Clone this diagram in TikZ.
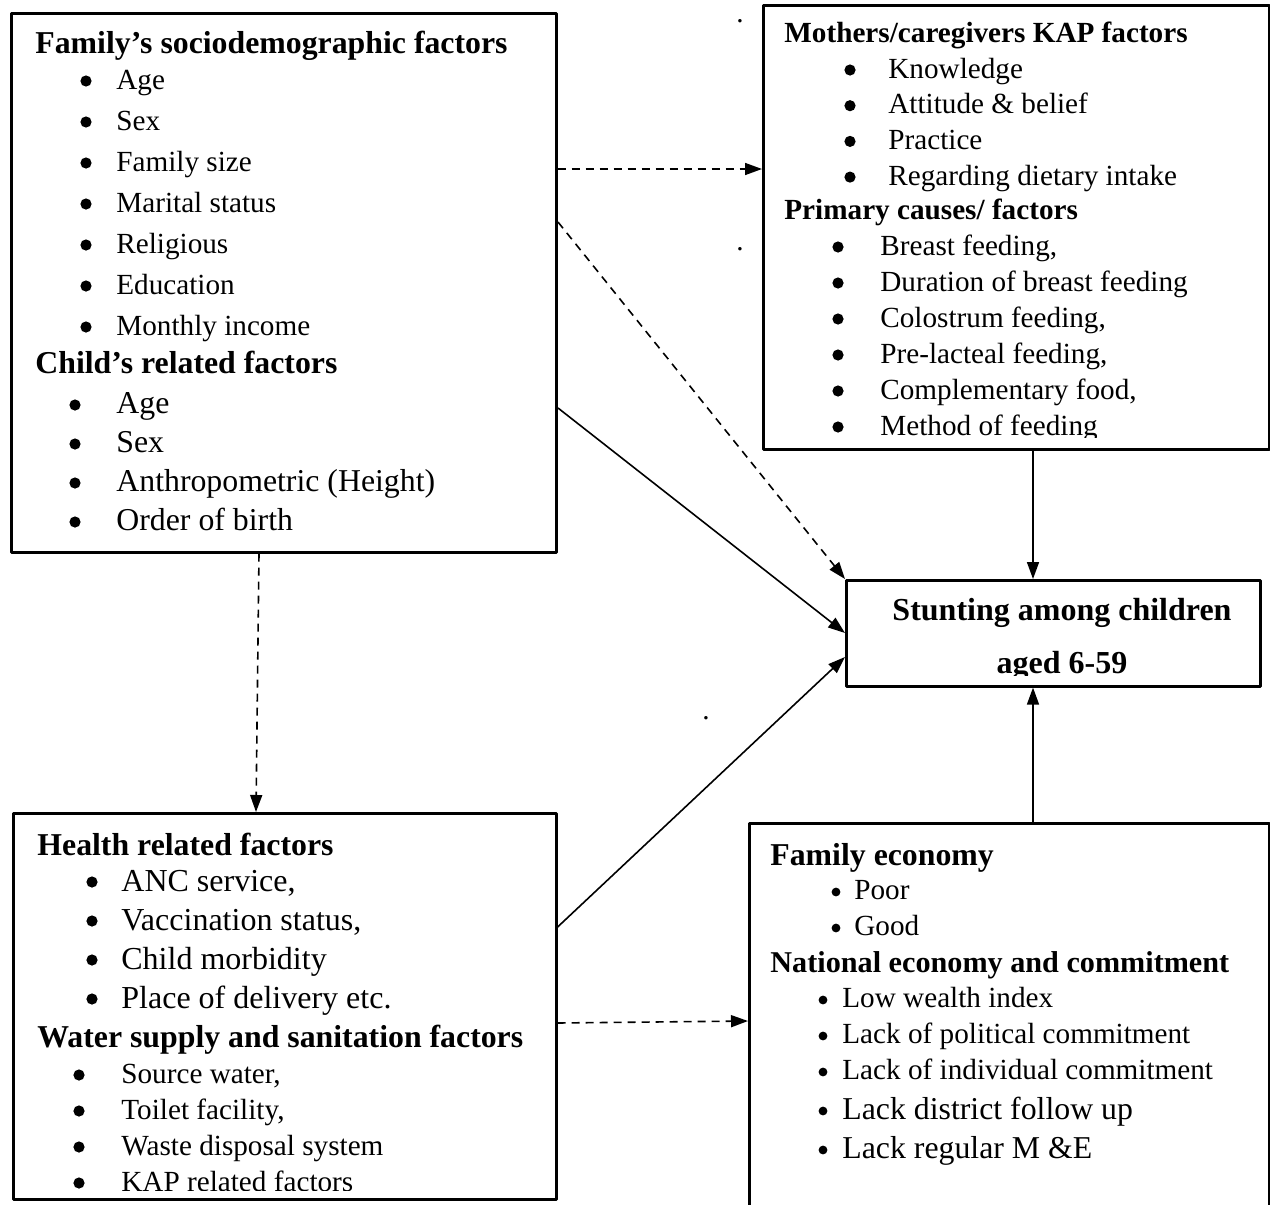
\documentclass[tikz,border=0pt]{standalone}
\usepackage{fontspec}
\setmainfont{Liberation Serif}
\usetikzlibrary{arrows.meta}

\newcommand{\fs}[1]{\fontsize{#1}{#1}\selectfont}

\begin{document}
\begin{tikzpicture}[x=0.5pt,y=-0.5pt,line join=round,>={Triangle[length=8.5pt,width=6pt]},
  box/.style={draw,line width=1.3pt,inner sep=0pt,anchor=north west},
  txt/.style={anchor=base west,inner sep=0pt},
  hd/.style={txt,font=\bfseries\fs{15.9}},
  it/.style={txt,font=\fs{14.6}},
  con/.style={->,line width=0.8pt},
  dsh/.style={con,dash pattern=on 4pt off 3pt}]

\useasboundingbox (0,0) rectangle (1270,1205);

\node[box,minimum width=272.5pt,minimum height=269.5pt] (fam) at (10,12) {};
\node[box,minimum width=253pt,minimum height=222pt] (mot) at (762,4) {};
\node[box,minimum width=207pt,minimum height=53pt] (stu) at (845,579) {};
\node[box,minimum width=271.5pt,minimum height=193pt] (hlt) at (12,812) {};
\node[box,minimum width=260pt,minimum height=200pt] (eco) at (748,822) {};

% family and child
\node[hd] (famh) at (35,53) {Family's sociodemographic factors};
\foreach \t [count=\i from 0] in {Age,Sex,Family size,Marital status,Religious,Education,Monthly income}{
  \fill (86,{81+41*\i}) circle[radius=2.8pt];
  \node[it] (fa\i) at (116,{89+41*\i}) {\t};}
\node[hd] (chih) at (35,373) {Child's related factors};
\foreach \t [count=\i from 0] in {Age,Sex,Anthropometric (Height),Order of birth}{
  \fill (75,{405+39*\i}) circle[radius=2.8pt];
  \node[it,font=\fs{15.9}] (ch\i) at (116,{413+39*\i}) {\t};}

% mothers
\begin{scope}
\clip (762,4) rectangle (1268,437);
\node[hd,font=\bfseries\fs{14.6}] (moth) at (784,42) {Mothers/caregivers KAP factors};
\foreach \t [count=\i from 0] in {Knowledge,Attitude \& belief,Practice,Regarding dietary intake}{
  \fill (850,{70+35.7*\i}) circle[radius=2.8pt];
  \node[it] (mo\i) at (888,{78+35.7*\i}) {\t};}
\node[hd,font=\bfseries\fs{14.6}] (prih) at (784,219) {Primary causes/ factors};
\foreach \t [count=\i from 0] in {{Breast feeding,},Duration of breast feeding,{Colostrum feeding,},{Pre-lacteal feeding,},{Complementary food,},Method of feeding}{
  \fill (838,{247+36*\i}) circle[radius=2.8pt];
  \node[it] (pr\i) at (880,{255+36*\i}) {\t};}
\end{scope}

% outcome
\begin{scope}
\clip (845,579) rectangle (1259,675);
\node[hd,anchor=base,font=\bfseries\fs{16}] (stut) at (1062,620) {Stunting among children};
\node[hd,anchor=base,font=\bfseries\fs{16}] (stua) at (1062,673) {aged 6-59};
\end{scope}

% health and water
\begin{scope}
\clip (12,812) rectangle (555,1190);
\node[hd] (hlth) at (37,855) {Health related factors};
\foreach \t [count=\i from 0] in {{ANC service,},{Vaccination status,},Child morbidity,Place of delivery etc.}{
  \fill (92,{882+39*\i}) circle[radius=2.8pt];
  \node[it,font=\fs{16}] (he\i) at (121,{891+39*\i}) {\t};}
\node[hd] (wath) at (37,1047) {Water supply and sanitation factors};
\foreach \t [count=\i from 0] in {{Source water,},{Toilet facility,},Waste disposal system,KAP related factors}{
  \fill (79,{1075+36*\i}) circle[radius=2.8pt];
  \node[it] (wa\i) at (121,{1083+36*\i}) {\t};}
\end{scope}

% economy
\node[hd] (ecoh) at (770,865) {Family economy};
\foreach \t [count=\i from 0] in {Poor,Good}{
  \fill (836,{892+36*\i}) circle[radius=2.2pt];
  \node[it] (ec\i) at (854,{899+36*\i}) {\t};}
\node[hd,font=\bfseries\fs{15.1}] (nath) at (770,972) {National economy and commitment};
\foreach \t [count=\i from 0] in {Low wealth index,Lack of political commitment,Lack of individual commitment}{
  \fill (823,{1000+36*\i}) circle[radius=2.2pt];
  \node[it] (na\i) at (842,{1007+36*\i}) {\t};}
\fill (823,1111) circle[radius=2.2pt];
\node[it,font=\fs{15.9}] (na3) at (842,1119) {Lack district follow up};
\fill (823,1150) circle[radius=2.2pt];
\node[it,font=\fs{15.9}] (na4) at (842,1158) {Lack regular M \&E};

\node[it] (d1) at (736,22) {.};
\node[it] (d2) at (736,250) {.};
\node[it] (d3) at (702,719) {.};

\coordinate (s1) at (558,222);
\coordinate (s2) at (558,408);
\draw[dsh] (fam.east |- 0,169) -- (mot.west |- 0,169);
\draw[dsh] (s1) -- (stu.north west);
\draw[con] (s2) -- (stu.west |- 0,633);
\draw[con] (hlt.east |- 0,927) -- (stu.west |- 0,657);
\draw[con] (1033,0 |- mot.south) -- (1033,0 |- stu.north);
\draw[con] (1033,0 |- eco.north) -- (1033,0 |- stu.south);
\draw[dsh] (259,0 |- fam.south) -- (256,0 |- hlt.north);
\draw[dsh] (hlt.east |- 0,1023) -- (eco.west |- 0,1021);
\end{tikzpicture}
\end{document}
